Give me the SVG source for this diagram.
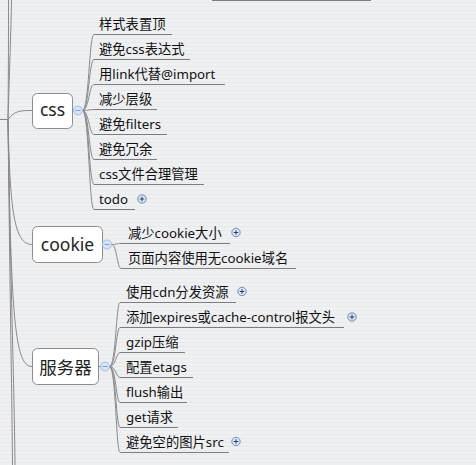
<svg xmlns="http://www.w3.org/2000/svg" width="476" height="465" viewBox="0 0 476 465">
<defs>
<pattern id="bg" width="8" height="4" patternUnits="userSpaceOnUse">
<rect width="8" height="4" fill="#eff0f2"/>
<rect y="2" width="8" height="1" fill="#e8e9ec"/>
</pattern>
<style>
.box{fill:#fff;stroke:#8c8c8c;stroke-width:1}
.main{font-family:"Noto Sans","Noto Sans CJK SC",sans-serif;font-size:17.5px;fill:#222;text-anchor:middle}
.t{font-family:"Noto Sans","Noto Sans CJK SC",sans-serif;font-size:13.3px;fill:#111}
.ul{stroke:#7d7d7d;stroke-width:1;fill:none}
.c{stroke:#8a8a8a;stroke-width:1;fill:none}
.mc{fill:#d6e4f7;stroke:#a3bde2;stroke-width:1}
.ms{stroke:#7f9fd0;stroke-width:1}
.pc{fill:#dde7f3;stroke:#6f8db8;stroke-width:1}
.ps{stroke:#2b3f6a;stroke-width:1}
</style>
</defs>
<rect width="476" height="465" fill="url(#bg)"/>

<g id="connectors">
<path class="c" d="M0 119.5 H8"/>
<path class="c" d="M8 119.5 C8.5 70 8.5 30 8.5 0"/>
<path class="c" d="M8 119.5 C9.5 70 11 30 11.5 0"/>
<path class="c" d="M8 119.5 C14 111 20 110.5 32 110.5"/>
<path class="c" d="M8 119.5 C10 210 14 244.5 32 244.5"/>
<path class="c" d="M8 119.5 C11 320 15 366.5 32 366.5"/>
<path class="c" d="M8 119.5 C10 300 12 400 12.5 465"/>
<path class="c" d="M8 119.5 C11 300 14.5 400 15 465"/>
<path class="c" d="M72 110.5 H74"/>
<path class="c" d="M102 244.5 H103"/>
<path class="c" d="M98 366.5 H101"/>
<g id="css-links">
<path class="c" d="M82.5 110.5 C89 110.5 89 34.5 94 34.5"/>
<path class="c" d="M82.5 110.5 C89 110.5 89 59.5 94 59.5"/>
<path class="c" d="M82.5 110.5 C89 110.5 89 84.5 94 84.5"/>
<path class="c" d="M82.5 110.5 C89 110.5 89 109.5 94 109.5"/>
<path class="c" d="M82.5 110.5 C89 110.5 89 134.5 94 134.5"/>
<path class="c" d="M82.5 110.5 C89 110.5 89 159.5 94 159.5"/>
<path class="c" d="M82.5 110.5 C89 110.5 89 184.5 94 184.5"/>
<path class="c" d="M82.5 110.5 C89 110.5 89 209.5 94 209.5"/>
</g>
<g id="cookie-links">
<path class="c" d="M111.5 244.5 C117 244.5 117 243.5 121 243.5"/>
<path class="c" d="M111.5 244.5 C117 244.5 117 268.5 121 268.5"/>
</g>
<g id="server-links">
<path class="c" d="M109.5 366.5 C116 366.5 116 302.5 120 302.5"/>
<path class="c" d="M109.5 366.5 C116 366.5 116 327.5 120 327.5"/>
<path class="c" d="M109.5 366.5 C116 366.5 116 352.5 120 352.5"/>
<path class="c" d="M109.5 366.5 C116 366.5 116 377.5 120 377.5"/>
<path class="c" d="M109.5 366.5 C116 366.5 116 402.5 120 402.5"/>
<path class="c" d="M109.5 366.5 C116 366.5 116 427.5 120 427.5"/>
<path class="c" d="M109.5 366.5 C116 366.5 116 452.5 120 452.5"/>
</g>
</g>

<g id="top-sibling"><path class="ul" d="M212 0.5 H371"/></g>

<g id="css">
<rect class="box" x="32.5" y="93.5" width="40" height="35" rx="5"/>
<text class="main" x="52.5" y="115.5">css</text>
<circle class="mc" cx="78" cy="110.5" r="4.5"/>
<path class="ms" d="M75.5 110.5 H80.5"/>
</g>
<g id="css-1"><text class="t" x="99" y="28.5">样式表置顶</text><path class="ul" d="M94 34.5 H172"/></g>
<g id="css-2"><text class="t" x="99" y="53.5">避免css表达式</text><path class="ul" d="M94 59.5 H190"/></g>
<g id="css-3"><text class="t" x="99" y="78.5">用link代替@import</text><path class="ul" d="M94 84.5 H225"/></g>
<g id="css-4"><text class="t" x="99" y="103.5">减少层级</text><path class="ul" d="M94 109.5 H157"/></g>
<g id="css-5"><text class="t" x="99" y="128.5">避免filters</text><path class="ul" d="M94 134.5 H167"/></g>
<g id="css-6"><text class="t" x="99" y="153.5">避免冗余</text><path class="ul" d="M94 159.5 H157"/></g>
<g id="css-7"><text class="t" x="99" y="178.5">css文件合理管理</text><path class="ul" d="M94 184.5 H204"/></g>
<g id="css-8"><text class="t" x="99" y="203.5">todo</text><path class="ul" d="M94 209.5 H135"/>
<circle class="pc" cx="142" cy="199" r="4.2"/><path class="ps" d="M139.7 199 H144.3 M142 196.7 V201.3"/></g>

<g id="cookie">
<rect class="box" x="32.5" y="226.5" width="70" height="36" rx="5"/>
<text class="main" x="67.5" y="250.5">cookie</text>
<circle class="mc" cx="107" cy="244.5" r="4.5"/>
<path class="ms" d="M104.5 244.5 H109.5"/>
</g>
<g id="cookie-1"><text class="t" x="128" y="237.5">减少cookie大小</text><path class="ul" d="M121 243.5 H230"/>
<circle class="pc" cx="236" cy="232.5" r="4.2"/><path class="ps" d="M233.7 232.5 H238.3 M236 230.2 V234.8"/></g>
<g id="cookie-2"><text class="t" x="128" y="262.5">页面内容使用无cookie域名</text><path class="ul" d="M121 268.5 H296"/></g>

<g id="server">
<rect class="box" x="32.5" y="348.5" width="66" height="36" rx="5"/>
<text class="main" x="65.5" y="373.5">服务器</text>
<circle class="mc" cx="105" cy="366.5" r="4.5"/>
<path class="ms" d="M102.5 366.5 H107.5"/>
</g>
<g id="server-1"><text class="t" x="126" y="296.5">使用cdn分发资源</text><path class="ul" d="M120 302.5 H236"/>
<circle class="pc" cx="242" cy="291.5" r="4.2"/><path class="ps" d="M239.7 291.5 H244.3 M242 289.2 V293.8"/></g>
<g id="server-2"><text class="t" x="126" y="321.5">添加expires或cache-control报文头</text><path class="ul" d="M120 327.5 H344"/>
<circle class="pc" cx="352" cy="317" r="4.2"/><path class="ps" d="M349.7 317 H354.3 M352 314.7 V319.3"/></g>
<g id="server-3"><text class="t" x="126" y="346.5">gzip压缩</text><path class="ul" d="M120 352.5 H185"/></g>
<g id="server-4"><text class="t" x="126" y="371.5">配置etags</text><path class="ul" d="M120 377.5 H193"/></g>
<g id="server-5"><text class="t" x="126" y="396.5">flush输出</text><path class="ul" d="M120 402.5 H187"/></g>
<g id="server-6"><text class="t" x="126" y="421.5">get请求</text><path class="ul" d="M120 427.5 H178"/></g>
<g id="server-7"><text class="t" x="126" y="446.5">避免空的图片src</text><path class="ul" d="M120 452.5 H229"/>
<circle class="pc" cx="236" cy="441.5" r="4.2"/><path class="ps" d="M233.7 441.5 H238.3 M236 439.2 V443.8"/></g>
</svg>
